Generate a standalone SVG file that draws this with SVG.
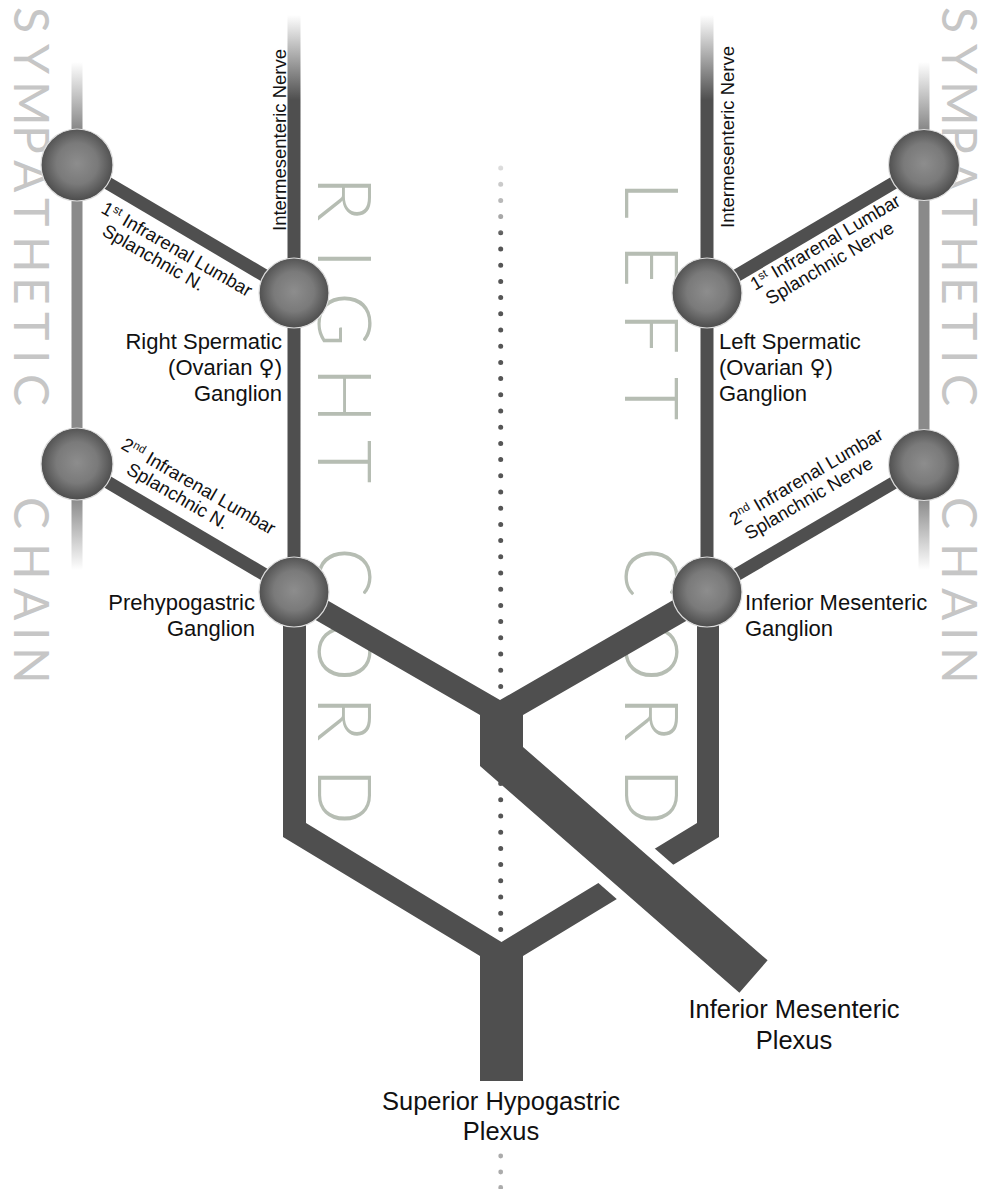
<svg xmlns="http://www.w3.org/2000/svg" width="983" height="1189" viewBox="0 0 983 1189">
<defs>
<radialGradient id="gang" cx="50%" cy="48%" r="52%">
<stop offset="0" stop-color="#8d8d8d"/>
<stop offset="0.55" stop-color="#7a7a7a"/>
<stop offset="1" stop-color="#4c4c4c"/>
</radialGradient>
<linearGradient id="nerveFade" gradientUnits="userSpaceOnUse" x1="0" y1="15" x2="0" y2="100">
<stop offset="0" stop-color="#4f4f4f" stop-opacity="0"/>
<stop offset="1" stop-color="#4f4f4f" stop-opacity="1"/>
</linearGradient>
<linearGradient id="chainFade" gradientUnits="userSpaceOnUse" x1="0" y1="62" x2="0" y2="570">
<stop offset="0" stop-color="#8a8a8a" stop-opacity="0"/>
<stop offset="0.13" stop-color="#8a8a8a" stop-opacity="1"/>
<stop offset="0.86" stop-color="#8a8a8a" stop-opacity="1"/>
<stop offset="1" stop-color="#8a8a8a" stop-opacity="0"/>
</linearGradient>
<linearGradient id="dotFade" gradientUnits="userSpaceOnUse" x1="0" y1="162" x2="0" y2="236">
<stop offset="0" stop-color="#e2e2e2"/>
<stop offset="0.75" stop-color="#a6a6a6"/>
<stop offset="1" stop-color="#555555"/>
</linearGradient>
</defs>
<style>
.big{font-family:Lato,"Open Sans","Liberation Sans",sans-serif;font-weight:300;fill:#b6bdb3}
.chain{font-family:Lato,"Open Sans","Liberation Sans",sans-serif;font-weight:400;fill:#c6c6c6;font-size:48px}
.cord{font-size:75px}
.lbl{font-family:"Liberation Sans",Arial,"DejaVu Sans",sans-serif;font-size:22px;fill:#111}
.sym{font-family:"DejaVu Sans",sans-serif}
.sm{font-family:"Liberation Sans",Arial,"DejaVu Sans",sans-serif;font-size:18.5px;fill:#111}
.plex{font-family:"Liberation Sans",Arial,"DejaVu Sans",sans-serif;font-size:25.5px;fill:#111}
.dark{fill:#4f4f4f}
.conn{stroke:#4f4f4f;stroke-width:13;fill:none}
.gang{fill:url(#gang);stroke:#dcdcdc;stroke-width:1.2}
</style>
<rect width="983" height="1189" fill="#ffffff"/>
<g id="background-text">
<text class="chain" transform="translate(14,0) rotate(90)" y="0"><tspan x="7">S</tspan><tspan x="44">Y</tspan><tspan x="81">M</tspan><tspan x="125">P</tspan><tspan x="160">A</tspan><tspan x="198">T</tspan><tspan x="236">H</tspan><tspan x="277">E</tspan><tspan x="312">T</tspan><tspan x="350">I</tspan><tspan x="374">C</tspan><tspan x="497">C</tspan><tspan x="543">H</tspan><tspan x="588">A</tspan><tspan x="627">I</tspan><tspan x="647">N</tspan></text>
<text class="chain" transform="translate(942,0) rotate(90)" y="0"><tspan x="7">S</tspan><tspan x="44">Y</tspan><tspan x="81">M</tspan><tspan x="125">P</tspan><tspan x="160">A</tspan><tspan x="198">T</tspan><tspan x="236">H</tspan><tspan x="277">E</tspan><tspan x="312">T</tspan><tspan x="350">I</tspan><tspan x="374">C</tspan><tspan x="497">C</tspan><tspan x="543">H</tspan><tspan x="588">A</tspan><tspan x="627">I</tspan><tspan x="647">N</tspan></text>
<text class="big cord" transform="translate(318,0) rotate(90)" y="0"><tspan x="176">R</tspan><tspan x="249">I</tspan><tspan x="292">G</tspan><tspan x="367">H</tspan><tspan x="440">T</tspan><tspan x="547">C</tspan><tspan x="622">O</tspan><tspan x="696">R</tspan><tspan x="768">D</tspan></text>
<text class="big cord" transform="translate(625,0) rotate(90)" y="0"><tspan x="181">L</tspan><tspan x="244">E</tspan><tspan x="312">F</tspan><tspan x="377">T</tspan><tspan x="547">C</tspan><tspan x="622">O</tspan><tspan x="696">R</tspan><tspan x="768">D</tspan></text>
</g>
<g id="midline">
<line x1="500.7" y1="168" x2="500.7" y2="945" stroke="url(#dotFade)" stroke-width="5" stroke-linecap="round" stroke-dasharray="0 16.2"/>
<circle cx="500.7" cy="1156" r="2.4" fill="#ababab"/>
<circle cx="500.7" cy="1172" r="2.4" fill="#ababab"/>
<circle cx="500.7" cy="1187.5" r="2.4" fill="#ababab"/>
</g>
<g id="connectors">
<line x1="77" y1="62" x2="77" y2="570" stroke="url(#chainFade)" stroke-width="11"/>
<line x1="924" y1="62" x2="924" y2="570" stroke="url(#chainFade)" stroke-width="11"/>
<line x1="294" y1="15" x2="294" y2="600" stroke="url(#nerveFade)" stroke-width="13"/>
<line x1="707" y1="15" x2="707" y2="600" stroke="url(#nerveFade)" stroke-width="13"/>
<line class="conn" x1="77" y1="165" x2="294" y2="293"/>
<line class="conn" x1="77" y1="464" x2="294" y2="592"/>
<line class="conn" x1="924" y1="165" x2="707" y2="293"/>
<line class="conn" x1="924" y1="465" x2="707" y2="592"/>
<path class="dark" d="M283,625 L306,625 L306,823 L501.5,942 L697,823 L697,625 L719,625 L719,837 L523,956 L523,1081 L480,1081 L480,956 L283,837 Z"/>
<line x1="565" y1="812" x2="715" y2="943" stroke="#ffffff" stroke-width="63"/>
<path class="dark" d="M300,584.6 L500,700 L700,584.6 L700,612.9 L523,715 L523,747 L767.6,960.3 L739.4,992.7 L480,766 L480,715 L300,611.1 Z"/>
<text class="sm" transform="translate(285.5,231) rotate(-90)">Intermesenteric Nerve</text>
<text class="sm" transform="translate(734,228) rotate(-90)">Intermesenteric Nerve</text>
<g transform="translate(100,212) rotate(30)">
<text class="sm" x="0" y="0">1<tspan font-size="11.5" dy="-6.5">st</tspan><tspan dy="6.5"> Infrarenal Lumbar</tspan></text>
<text class="sm" x="12" y="19">Splanchnic N.</text>
</g>
<g transform="translate(120,448) rotate(30)">
<text class="sm" x="0" y="0">2<tspan font-size="11.5" dy="-6.5">nd</tspan><tspan dy="6.5"> Infrarenal Lumbar</tspan></text>
<text class="sm" x="17" y="19">Splanchnic N.</text>
</g>
<g transform="translate(755,291) rotate(-30.5)">
<text class="sm" x="0" y="0">1<tspan font-size="11.5" dy="-6.5">st</tspan><tspan dy="6.5"> Infrarenal Lumbar</tspan></text>
<text class="sm" x="6" y="20">Splanchnic Nerve</text>
</g>
<g transform="translate(734,526) rotate(-30.3)">
<text class="sm" x="0" y="0">2<tspan font-size="11.5" dy="-6.5">nd</tspan><tspan dy="6.5"> Infrarenal Lumbar</tspan></text>
<text class="sm" x="6" y="20">Splanchnic Nerve</text>
</g>
<text class="plex" x="501" y="1110" text-anchor="middle">Superior Hypogastric</text>
<text class="plex" x="501" y="1140" text-anchor="middle">Plexus</text>
<text class="plex" x="794" y="1018" text-anchor="middle" font-size="26">Inferior Mesenteric</text>
<text class="plex" x="794" y="1049" text-anchor="middle" font-size="26">Plexus</text>
</g>
<g id="node-right-chain-1"><circle class="gang" cx="77" cy="165" r="36"/></g>
<g id="node-right-chain-2"><circle class="gang" cx="77" cy="464" r="36"/></g>
<g id="node-left-chain-1"><circle class="gang" cx="924" cy="165" r="35.5"/></g>
<g id="node-left-chain-2"><circle class="gang" cx="924" cy="465" r="35.5"/></g>
<g id="node-right-spermatic">
<circle class="gang" cx="294" cy="293" r="35"/>
<text class="lbl" text-anchor="end"><tspan x="282" y="349">Right Spermatic</tspan><tspan x="282" y="375">(Ovarian <tspan class="sym">♀</tspan>)</tspan><tspan x="282" y="401">Ganglion</tspan></text>
</g>
<g id="node-left-spermatic">
<circle class="gang" cx="707" cy="293" r="35"/>
<text class="lbl"><tspan x="719" y="349">Left Spermatic</tspan><tspan x="719" y="375">(Ovarian <tspan class="sym">♀</tspan>)</tspan><tspan x="719" y="401">Ganglion</tspan></text>
</g>
<g id="node-prehypogastric">
<circle class="gang" cx="294" cy="592" r="35"/>
<text class="lbl" text-anchor="end"><tspan x="255" y="610">Prehypogastric</tspan><tspan x="255" y="636">Ganglion</tspan></text>
</g>
<g id="node-inferior-mesenteric">
<circle class="gang" cx="707" cy="592" r="35"/>
<text class="lbl"><tspan x="745" y="610">Inferior Mesenteric</tspan><tspan x="745" y="636">Ganglion</tspan></text>
</g>
</svg>
